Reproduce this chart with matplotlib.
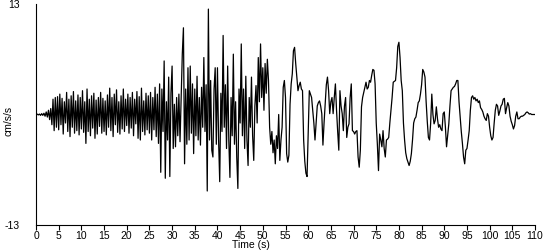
import matplotlib

matplotlib.use("Agg")

import matplotlib.pyplot as plt
import numpy as np


DT = 0.25  # s between samples
Y_LIMIT = 13

# ground acceleration, cm/s/s, one value every 0.25 s
ACC_ONSET = [
    0.0, 0.05, -0.05, 0.05, -0.1, 0.1, -0.1, 0.15, -0.2, 0.3,
    -0.3, 0.5, -0.6, 0.7, -1.2, 1.8, -1.9, 2.0, -1.5, 2.1,
    -1.8, 2.4, -1.2, 1.9, -2.3, 1.5, -1.0, 2.6, -2.0, 1.8,
    -2.6, 2.2, -1.5, 2.7, -2.2, 1.6, -1.9, 2.3, -2.4, 2.0,
    -1.7, 2.8, -2.1, 1.5, -3.4, 3.0, -2.0, 1.8, -2.5, 2.2,
    -1.6, 2.5, -2.8, 1.7, -2.3, 2.0, -1.4, 2.6, -2.2, 1.9,
    -2.0, 1.6, -2.4, 2.3, -1.5, 3.1, -1.9, 2.0, -2.6, 2.4,
    -1.2, 2.9, -2.1, 1.5, -2.3, 2.2, -1.7, 3.0, -2.0, 1.8,
    -1.3, 2.4, -2.2, 2.0, -1.6, 2.6, -2.5, 1.8, -1.1, 2.7,
    -2.8, 2.1, -3.0, 3.1, -2.0, 1.6, -2.4, 2.5, -1.8, 2.2,
]
ACC_STRONG = [
    -2.2, 2.6, -3.0, 2.0, -1.8, 3.2, -2.6, 2.4, -3.4, 3.6,
    -6.8, 3.0, -2.0, 6.3, -7.5, 1.5, -3.0, 4.4, -7.3, 2.5,
    5.7, -4.0, 1.2, -3.8, 2.0, -2.5, 2.4, -3.2, 1.8, 7.1,
    10.2, -5.8, 3.0, -3.5, 5.5, -3.0, 5.7, -2.2, 3.6, -4.6,
    3.0, -2.5, 4.5, -3.0, 2.0, -3.6, 3.2, -1.5, 6.7, -2.0,
    3.5, -9.0, 12.4, -3.0, 4.0, -4.2, -5.0, 3.0, 5.5, -3.5,
    5.5, -3.0, -7.9, 2.5, -2.0, 9.3, -1.5, 3.5, -4.0, 5.7,
    -3.0, -7.4, 2.0, -2.5, 7.1, -3.5, 1.5, -5.0, -8.7, 3.0,
    -1.0, 8.3, -2.5, 3.0, -4.0, 4.5, -3.0, -6.0, 2.0, -1.5,
    4.4, -2.5, -5.4, 1.0, 3.4, -1.0, 6.7, 1.5, 8.3, 2.0,
    5.5, 0.5, 6.0, 2.5, 6.5, 4.0, -1.5, -3.5, -2.0, -4.5,
    -3.0, -5.8, -2.5, -4.0, 0.0, -5.4, -3.0, -1.5, 3.2, 4.0,
]
ACC_CODA = [
    2.0, -4.6, -5.6, -4.8, 1.2, 3.6, 4.8, 7.5, 7.9, 6.0,
    4.4, 2.8, 3.4, 3.8, 3.0, 2.8, -3.0, -5.5, -6.9, -7.3,
    -2.0, 2.8, 2.4, 2.0, 0.5, -1.0, -3.0, -1.0, 1.0, 1.4,
    1.6, 1.0, 0.1, -3.6, -1.0, 1.2, 3.5, 4.4, 2.8, 0.1,
    1.5, 2.0, 0.1, 2.0, 3.6, 0.5, -2.0, -4.2, 2.8, 1.0,
    0.1, -1.9, 1.0, 2.0, -2.7, -1.5, -1.1, 2.0, 3.6, -1.9,
    -2.0, -2.3, -2.0, -1.9, -5.0, -6.2, -4.2, 0.9, 2.0, 2.6,
    3.2, 3.8, 3.0, 3.2, 4.0, 3.8, 4.6, 5.3, 5.2, 3.6,
    -1.0, -3.5, -6.6, -2.3, -3.0, -3.8, -1.9, -4.0, -5.0, -3.0,
    -2.9, -2.7, -1.0, 0.5, 2.0, 3.8, 3.9, 4.0, 5.5, 8.0,
    8.5, 6.7, 4.0, 2.8, -1.0, -3.0, -4.5, -5.2, -5.6, -6.0,
    -5.5, -4.6, -3.0, -1.0, -0.5, -0.3, 0.5, 1.4, 1.6, 2.4,
    3.5, 5.3, 5.0, 4.4, 1.5, -0.8, -2.7, -3.0, -1.0, 2.4,
    0.0, -1.1, -0.7, 0.9, -0.5, -1.5, -1.2, -1.7, -1.9, 0.1,
    0.3, -1.5, -3.8, -2.5, -1.1, 1.0, 2.8, 3.0, 3.2, 3.3,
    3.6, 4.0, 4.0, 1.5, -0.3, -2.0, -3.4, -5.0, -5.8, -4.2,
    -4.0, -3.0, -1.9, 0.5, 2.0, 2.2, 1.8, 2.0, 1.6, 1.8,
    1.4, 1.6, 0.8, 0.6, 0.3, -0.2, -0.5, -0.7, 0.1, -0.2,
    -1.5, -2.5, -3.0, -2.7, -1.0, 0.5, 1.2, 1.0, -0.1, 0.4,
    1.0, 1.2, 1.8, 1.9, 0.1, 0.8, 1.4, 1.0, -0.2, -0.8,
    -1.2, -1.7, -1.3, -0.2, 0.3, -0.5, -0.5, -0.3, -0.2, -0.2,
    -0.1, 0.0, 0.2, 0.3, 0.2, 0.05, 0.1, 0.0, 0.0, 0.0, 0.0,
]
X_TICKS = list(range(0, 111, 5))


def main():
    plt.rcParams["font.family"] = ["Liberation Sans", "DejaVu Sans"]
    acc = np.array(ACC_ONSET + ACC_STRONG + ACC_CODA, dtype=float)
    time = np.arange(len(acc)) * DT

    fig = plt.figure(figsize=(5.5, 2.5), dpi=100)
    ax = fig.add_axes([36 / 550, 25 / 250, 499 / 550, 221 / 250])
    ax.plot(time, acc, color="black", linewidth=0.9)

    ax.set_xlim(0, 110)
    ax.set_ylim(-Y_LIMIT, Y_LIMIT)
    ax.set_xticks(X_TICKS)
    ax.set_yticks([-Y_LIMIT, Y_LIMIT])
    ax.set_yticklabels([str(-Y_LIMIT), str(Y_LIMIT)])
    ax.tick_params(axis="x", direction="out", length=3.5, width=0.8, pad=0.5, labelsize=7.5)
    ax.tick_params(axis="y", length=0, pad=12, labelsize=7.5)
    for side in ("top", "right"):
        ax.spines[side].set_visible(False)
    for side in ("left", "bottom"):
        ax.spines[side].set_linewidth(0.8)

    ax.set_xlabel("Time (s)", fontsize=7.5, labelpad=0)
    ax.xaxis.set_label_coords(0.43, -0.07)
    ax.set_ylabel("cm/s/s", fontsize=7.5)
    ax.yaxis.set_label_coords(-0.045, 0.47)

    fig.savefig("out.png", dpi=100)
    plt.close(fig)


if __name__ == "__main__":
    main()
